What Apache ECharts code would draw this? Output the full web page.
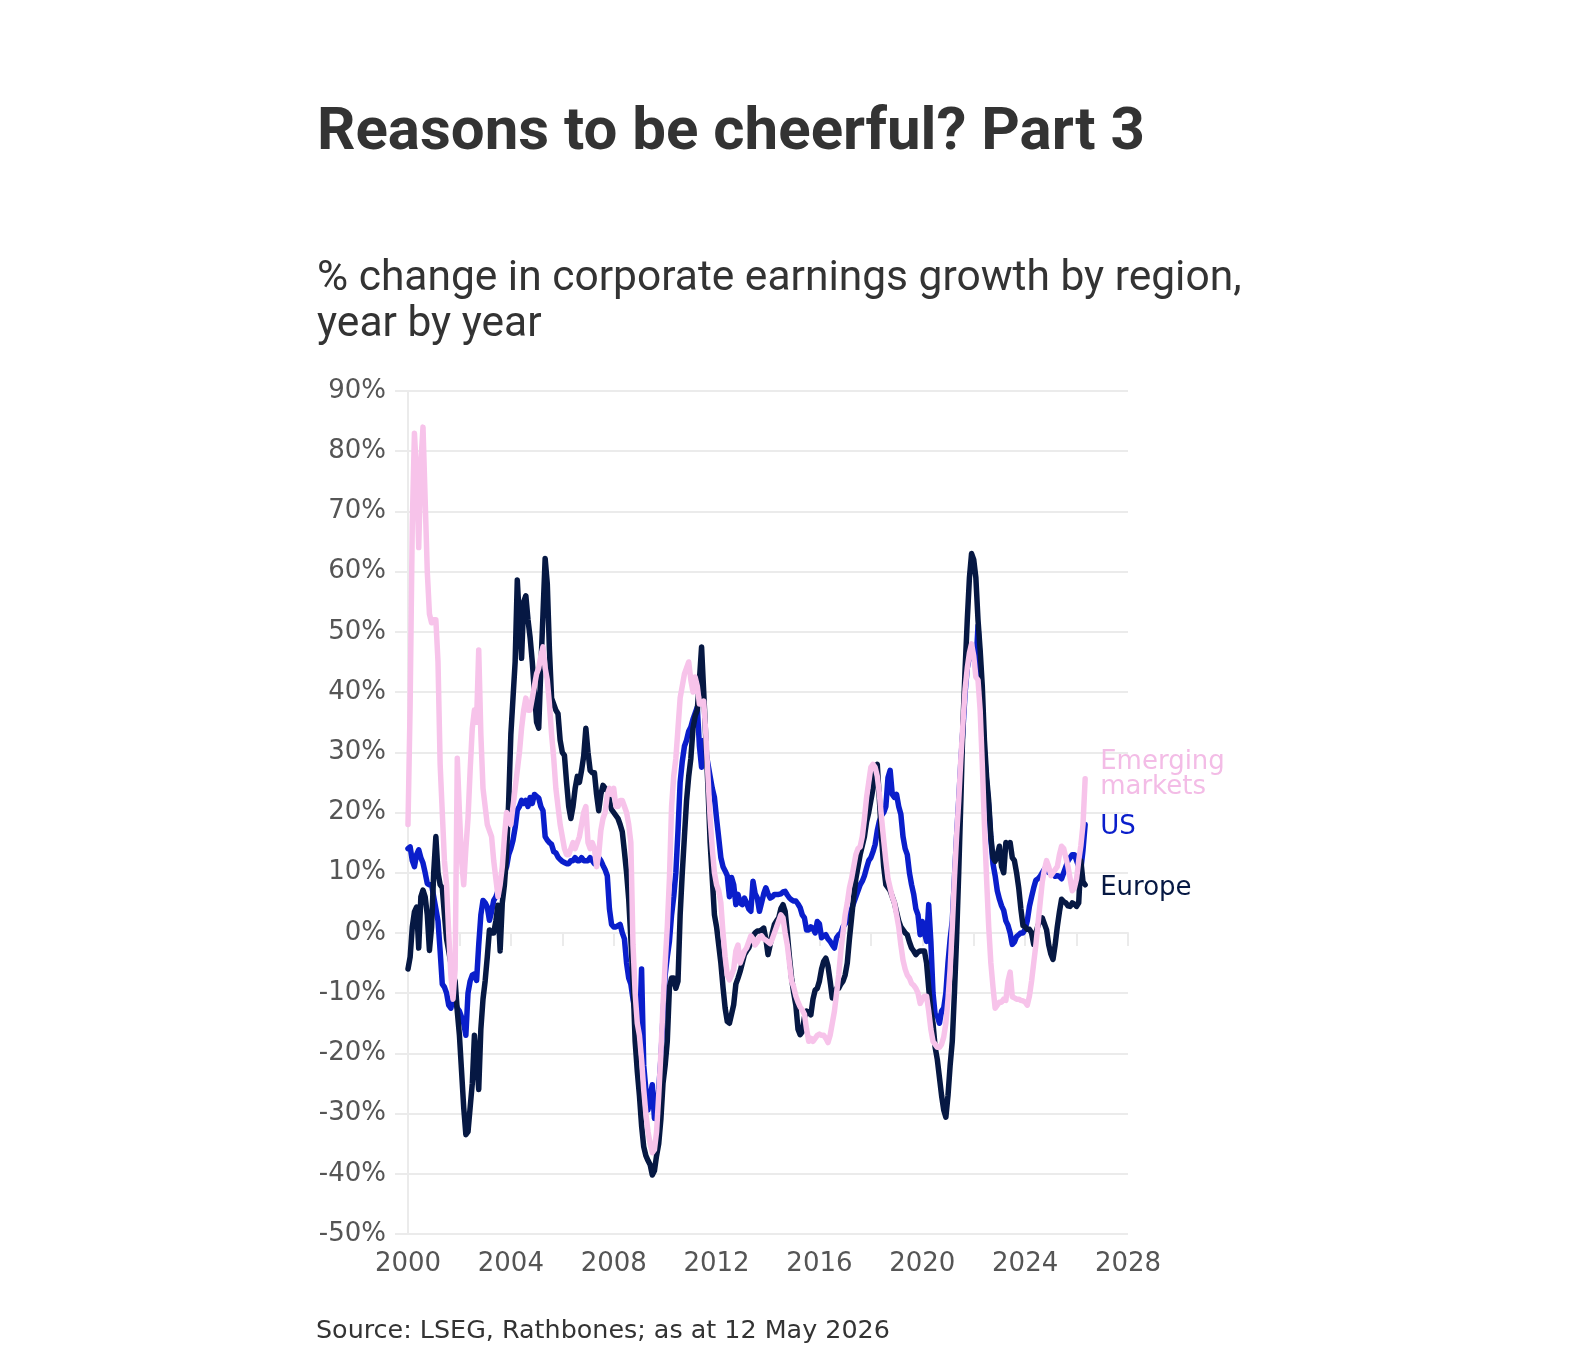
<!DOCTYPE html>
<html>
<head>
<meta charset="utf-8">
<title>Reasons to be cheerful? Part 3</title>
<script src="https://cdn.jsdelivr.net/npm/echarts@6/dist/echarts.min.js"></script>
<style>
  html, body { margin: 0; padding: 0; background: #ffffff; }
  #chart { width: 1588px; height: 1370px; }
</style>
</head>
<body>
<div id="chart"></div>
<script>
// monthly readings, Jan 2000 .. May 2026 (% change y/y)
const startYear = 2000
const xMin = 2000
const xMax = 2028
const yMin = -50
const yMax = 90

const usValues = [
  14, 14.3, 12, 11, 13, 13.8, 12.5, 11.6, 10, 8.2, 8, 8,
  6, 4, 2, -3, -8.5, -9, -10, -12, -12.5, -11, -11.5, -12.5,
  -13, -14, -15, -17, -10, -8, -7, -6.8, -7.9, -2, 3, 5.4,
  5, 4.3, 2.1, 3.5, 5.4, 6, 7, 7.5, 8.5, 10, 11, 13,
  14, 15.4, 17.5, 20.4, 21, 22, 21.5, 22, 21, 22.5, 21.5, 23,
  22.7, 22.4, 21, 20.3, 16, 15.4, 15, 14.7, 13.5, 13.3, 12.6, 12.2,
  11.9, 11.7, 11.5, 11.5, 12, 12, 12.5, 12, 12, 12.5, 12, 12,
  12, 12.5, 12, 11.5, 12, 12.5, 12, 11.2, 10.5, 9.5, 4, 1.4,
  1, 1, 1.2, 1.4, 0, -1, -5, -7.5, -8.5, -11, -13, -15.4,
  -17, -6, -22, -26, -29.4, -27, -25.2, -30.8, -29.5, -26, -21, -14,
  -7, -4, -1.4, 3, 6, 10, 17, 25, 28.5, 31, 32, 33.5,
  34.2, 35.5, 36.5, 37.5, 31, 27.5, 32, 30, 28, 26, 24, 22.5,
  19, 15.8, 12.5, 11, 10.3, 9.5, 6, 9.2, 8, 4.7, 6.4, 5,
  4.7, 5.8, 5, 4, 3.6, 8.6, 6.5, 5.8, 3.6, 5, 6.5, 7.5,
  6.5, 5.8, 6, 6.4, 6.4, 6.4, 6.5, 6.8, 6.9, 6.3, 5.8, 5.5,
  5.3, 5.3, 4.8, 4.2, 3, 2.5, 0.5, 0.5, 1, 0.8, 0, 1.9,
  1.5, -0.8, -0.5, -0.3, -1, -1.4, -2, -2.5, -0.8, -0.3, 0, 1,
  1.5, 2, 3, 4, 5, 6, 7, 8, 8.6, 9.5, 10.8, 12,
  12.5, 13.5, 14.7, 17, 18.6, 19.5, 20, 21, 25.8, 27, 23, 22.5,
  23, 21, 19.7, 16, 14, 13, 10, 8, 6.4, 4, 3, -0.3,
  1.9, 0, -1.4, 4.7, -1.4, -10, -13.6, -13.8, -15, -13, -12.5, -10,
  -5, -1, 2, 9, 16, 22, 28.5, 34, 40, 44, 46, 47,
  46, 44, 51, 45, 37, 30, 25, 21, 15.5, 11.5, 9.5, 7,
  5.6, 4.5, 3.75, 2, 1.25, 0, -1.9, -1.5, -0.6, -0.3, 0, 0,
  0.6, 2, 4.4, 6, 7.5, 8.75, 9, 9.4, 10, 10.6, 10.5, 10,
  10, 9.8, 9.4, 9.5, 9.4, 9, 10, 11, 12, 12.5, 13, 13,
  12, 11, 10.6, 13.75, 18
]

const europeValues = [
  -6, -4, 1, 3.5, 4.3, -2.5, 6, 7.1, 6, 3, -2.9, 1,
  10, 16, 10, 8, 7.5, 3, -1, -3, -5, -7, -8, -13,
  -17, -23, -29, -33.5, -33, -29, -25, -17, -21, -26, -16, -11,
  -8, -4, 0.5, 0, 0, 2, 4.6, -3, 5, 8, 13, 22,
  33, 39, 45, 58.6, 52, 45.6, 55, 56, 52, 49, 45, 40,
  35, 34, 44, 53, 62.2, 58, 47, 39, 38, 37, 36.4, 32,
  30, 29.5, 25, 21, 19, 21, 24, 26, 25, 27, 29.4, 34,
  30, 27, 26.6, 26.6, 23, 20.3, 23, 24.5, 24, 23.8, 22, 20.5,
  20, 19.5, 19, 18, 16.8, 13.5, 10, 5.6, -1, -8, -18, -23,
  -27, -32, -35.5, -37, -37.8, -38.5, -40.2, -39.5, -37, -35, -31, -25,
  -22, -18, -9, -7.5, -7.5, -9.2, -8, 3, 10, 16, 22, 26,
  29, 34, 36, 37, 42, 47.5, 40, 32, 24, 15, 9, 3,
  1, -2, -5, -9, -12.5, -14.7, -15, -13.5, -11.9, -8.5, -7.5, -6.4,
  -5, -3.6, -3, -2.5, -1.5, -0.5, 0, 0.3, 0.3, 0.5, 0.8, -1,
  -3.6, -2, 0, 1.4, 2, 2.5, 4, 4.7, 3.6, 0, -4, -7.5,
  -10, -12, -16, -16.9, -16.4, -14, -13, -13.2, -13.6, -11, -9.5, -9.2,
  -8, -6, -4.7, -4.2, -5.5, -8, -10.8, -10, -9.2, -9.2, -8.5, -8,
  -7, -5, -1, 2.5, 6, 9, 11, 13, 14.5, 16, 18.5, 20,
  22, 24, 27, 28, 22, 15.8, 11, 8, 7.5, 7, 6, 5,
  3.5, 2, 1, 0.5, 0, -0.3, -1.5, -2.5, -3, -3.6, -3.2, -3,
  -3, -3, -5, -9.2, -13, -15, -19, -21, -24, -27, -29.4, -30.6,
  -27, -22, -18, -10, -1, 10, 22, 35, 44, 52, 59, 63,
  62, 59, 52, 47, 41, 32, 26, 21.9, 16, 12.5, 11.9, 13,
  14.4, 11, 10, 15, 14.5, 15, 12.5, 12, 10, 7.5, 4, 1.2,
  1, 0.6, 0.6, 0, -1.9, 0, 1.25, 2, 2.5, 1.5, 0.5, -2,
  -3.5, -4.4, -2, 1, 3.5, 5.6, 5.2, 5, 4.5, 4.4, 5, 4.8,
  4.4, 5, 12, 8.5, 8
]

const emValues = [
  18, 38, 68, 83, 76, 64, 78, 84, 72, 60, 53, 51.5,
  52, 52, 45, 28, 20, 12, 8, 0, -7, -11, -6, 29,
  20, 12, 8, 14, 19, 27, 34, 37, 35, 47, 33, 24,
  21, 18, 17, 16, 12, 9, 6, 8, 11, 16, 20, 19,
  18, 21, 24, 27, 30, 34, 37, 39, 37, 37, 39, 41,
  43, 44, 46, 47.5, 44, 42, 38, 33, 29, 24, 21, 18,
  16, 14, 13, 13, 14, 15, 14, 15, 16, 18, 20, 21,
  15, 14, 15, 14, 11, 13, 17, 19, 20, 23, 24, 23,
  24, 21, 21, 22, 22, 21, 20, 18, 15, -2, -10, -15,
  -17, -21, -26, -30, -33, -35, -36.5, -36, -33, -27, -20, -12,
  -5, 1, 9, 21, 26, 29, 34, 39, 41, 43, 44, 45,
  42, 40, 42.5, 41, 38, 38, 38.5, 33, 26, 19, 14, 10,
  8, 7, 5, 0, -4, -7, -7.8, -7, -6, -3, -2, -5,
  -4, -3, -2.5, -1.5, -0.5, -1, -2, -1.5, -0.7, -0.5, -1, -1.2,
  -1.5, -1.8, -1, 0, 1, 2, 3, 2.5, 0, -2, -5, -8,
  -9, -10.5, -11.5, -12.3, -12.8, -13.5, -16, -18, -17.5, -18, -17.5, -17,
  -16.8, -17, -17, -17.5, -18.2, -17, -15, -13, -10, -7, -3, 0,
  3, 5, 7.5, 9, 11, 13, 14, 14.3, 16, 19, 22.5, 25,
  27.5, 28, 27.5, 26, 23, 19, 15.4, 12, 9, 7.5, 6, 5,
  3, 1, -2, -4.5, -6, -7, -7.5, -8.4, -8.7, -9.2, -10, -11.7,
  -11, -10.5, -10.5, -13, -16, -18, -18.5, -19, -19, -18.5, -17.3, -15,
  -11, -6, 1, 9, 16, 22, 29, 35, 40.6, 44, 46.5, 48,
  46, 42.5, 42, 37, 28, 18, 9, 1, -5, -9, -12.5, -12,
  -11.5, -11.5, -11, -11.2, -8, -6.5, -10.6, -10.8, -11, -11, -11.2, -11.3,
  -11.5, -12, -10.5, -8, -5, -2, 1.5, 5, 8.5, 10.5, 12, 11,
  9.5, 10, 10.5, 11, 13, 14.4, 14, 12.5, 11, 9, 7, 7.5,
  9, 12, 14.5, 18, 25.6
]

const colors = {
  us: '#0a1ecb',
  europe: '#061843',
  em: '#f7c3ea',
  emLabel: '#f3bce6',
  grid: '#ebebeb',
  tickText: '#555555',
  text: '#333333'
}

const labelFont = 'DejaVu Sans'

// [decimal year, value] pairs for the value x-axis
function toPoints(values) {
  return values.map((v, i) => [startYear + i / 12, v])
}

function lineSeries(name, values, color, labelText, labelColor, labelOffset) {
  return {
    name: name,
    type: 'line',
    data: toPoints(values),
    showSymbol: false,
    symbol: 'none',
    lineStyle: {
      color: color,
      width: 5.5,
      join: 'round',
      cap: 'round'
    },
    itemStyle: { color: color },
    endLabel: {
      show: true,
      formatter: labelText,
      distance: 15,
      offset: labelOffset,
      color: labelColor,
      fontFamily: labelFont,
      fontSize: 26,
      lineHeight: 25
    },
    emphasis: { disabled: true }
  }
}

const chart = echarts.init(document.getElementById('chart'))
const option = {
  animation: false,
  backgroundColor: '#ffffff',
  graphic: [
    {
      type: 'text',
      x: 317,
      y: 134,
      style: {
        text: 'Reasons to be cheerful? Part 3',
        font: 'bold 60px Roboto',
        fill: colors.text,
        textVerticalAlign: 'middle'
      }
    },
    {
      type: 'text',
      x: 317,
      y: 279,
      style: {
        text: '% change in corporate earnings growth by region,',
        font: '42.5px Roboto',
        fill: colors.text,
        textVerticalAlign: 'middle'
      }
    },
    {
      type: 'text',
      x: 317,
      y: 325,
      style: {
        text: 'year by year',
        font: '42.5px Roboto',
        fill: colors.text,
        textVerticalAlign: 'middle'
      }
    },
    {
      type: 'text',
      x: 316,
      y: 1331,
      style: {
        text: 'Source: LSEG, Rathbones; as at 12 May 2026',
        font: '25.4px "DejaVu Sans"',
        fill: colors.text,
        textVerticalAlign: 'middle'
      }
    }
  ],
  grid: {
    left: 408,
    right: 460,
    top: 391,
    bottom: 136,
    containLabel: false
  },
  xAxis: {
    type: 'value',
    min: xMin,
    max: xMax,
    interval: 2,
    axisLine: { show: true, lineStyle: { color: colors.grid, width: 2 } },
    axisTick: { show: true, length: 13, lineStyle: { color: colors.grid, width: 2 } },
    splitLine: { show: false },
    axisLabel: {
      margin: 17,
      color: colors.tickText,
      fontFamily: labelFont,
      fontSize: 26,
      formatter: (v) => (v % 4 === 0 ? String(v) : '')
    }
  },
  yAxis: {
    type: 'value',
    min: yMin,
    max: yMax,
    interval: 10,
    axisLine: { show: true, lineStyle: { color: colors.grid, width: 2 } },
    axisTick: { show: true, length: 13, lineStyle: { color: colors.grid, width: 2 } },
    splitLine: { show: true, lineStyle: { color: colors.grid, width: 2 } },
    axisLabel: {
      margin: 22,
      color: colors.tickText,
      fontFamily: labelFont,
      fontSize: 26,
      formatter: '{value}%'
    }
  },
  series: [
    lineSeries('US', usValues, colors.us, 'US', colors.us, [0, 3]),
    lineSeries('Europe', europeValues, colors.europe, 'Europe', colors.europe, [0, 3]),
    lineSeries('Emerging markets', emValues, colors.em, 'Emerging\nmarkets', colors.emLabel, [0, -4])
  ]
}
chart.setOption(option)
</script>
</body>
</html>
